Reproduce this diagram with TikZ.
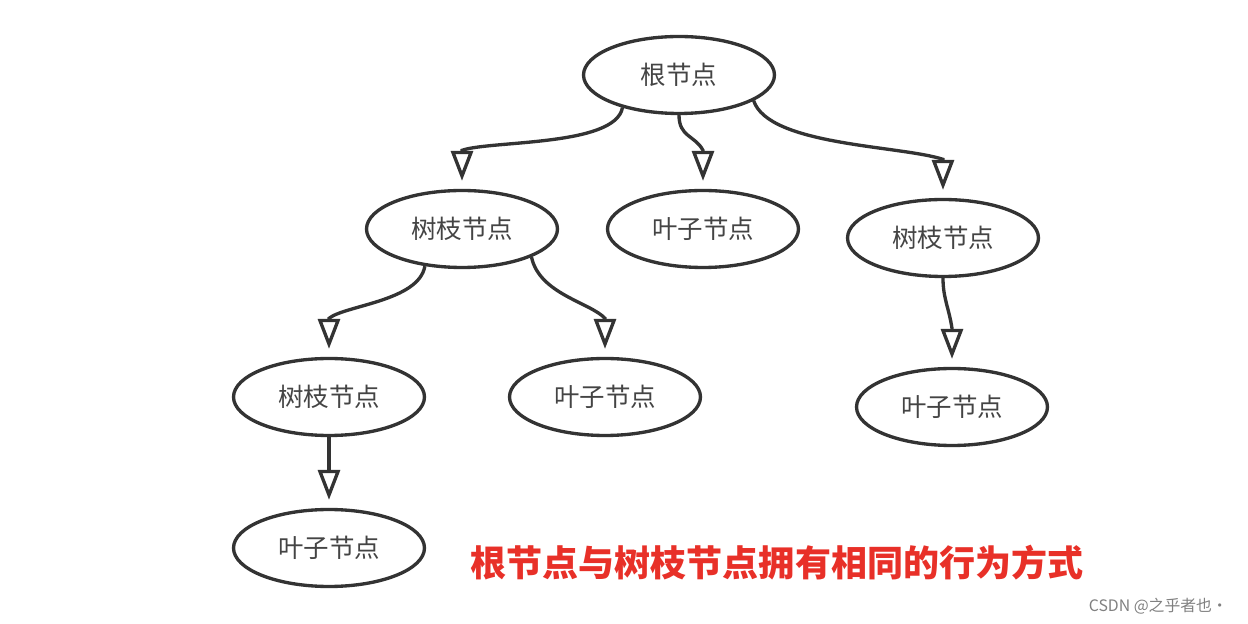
\documentclass[tikz,border=0pt]{standalone}
\usepackage{fontspec}
\newfontfamily\cjk{Noto Sans CJK SC}
\usetikzlibrary{shapes.geometric,arrows.meta}
\definecolor{inkgray}{RGB}{51,51,51}
\definecolor{textgray}{RGB}{68,68,68}
\definecolor{notered}{RGB}{232,48,40}
\tikzset{
    treenode/.style={ellipse,draw=inkgray,line width=1.9pt,minimum width=3.82cm,minimum height=1.54cm,inner sep=0pt,text=textgray,font=\cjk\fontsize{14.5}{16}\selectfont},
    treeedge/.style={draw=inkgray,line width=1.9pt,-{Triangle[open,width=0.44cm,length=0.6cm]},shorten >=0.16cm}
}
\begin{document}
\begin{tikzpicture}[x=0.02cm,y=-0.02cm]
        \useasboundingbox (0,0) rectangle (1248,624);
        \node[treenode] (root) at (679,75) {根节点};
        \node[treenode] (branchA) at (462,229) {树枝节点};
        \node[treenode] (leafA) at (703,229) {叶子节点};
        \node[treenode] (branchB) at (943,238) {树枝节点};
        \node[treenode] (branchC) at (329,397) {树枝节点};
        \node[treenode] (leafB) at (605,397) {叶子节点};
        \node[treenode] (leafC) at (952,407) {叶子节点};
        \node[treenode] (leafD) at (329,548) {叶子节点};
        % each curve stops at the back of its tip, the last straight run is all tip
        \draw[treeedge] (root.-150) .. controls +(-7,39) and +(28,-10) .. ([yshift=0.77cm]branchA.north) -- (branchA.north);
        \draw[treeedge] (root.south) .. controls +(0,22) and +(-8,-15) .. ([yshift=0.77cm]leafA.north) -- (leafA.north);
        \draw[treeedge] (root.-19) .. controls +(15,45) and +(-43,-14) .. ([yshift=0.77cm]branchB.north) -- (branchB.north);
        \draw[treeedge] (branchA.-135) .. controls +(-6,35) and +(16,-13) .. ([yshift=0.77cm]branchC.north) -- (branchC.north);
        \draw[treeedge] (branchA.-22) .. controls +(8,37) and +(-15,-16) .. ([yshift=0.77cm]leafB.north) -- (leafB.north);
        \draw[treeedge] (branchB.south) .. controls +(0,20) and +(-3,-20) .. ([yshift=0.77cm]leafC.north) -- (leafC.north);
        \draw[treeedge] (branchC.south) -- (leafD.north);
        \node[text=notered,font=\cjk\bfseries\fontsize{20.5}{24}\selectfont] (note) at (777,563) {根节点与树枝节点拥有相同的行为方式};
        \node[anchor=east,text=gray,font=\cjk\fontsize{9}{11}\selectfont] (mark) at (1234,606) {CSDN @之乎者也·};
    \end{tikzpicture}
\end{document}
